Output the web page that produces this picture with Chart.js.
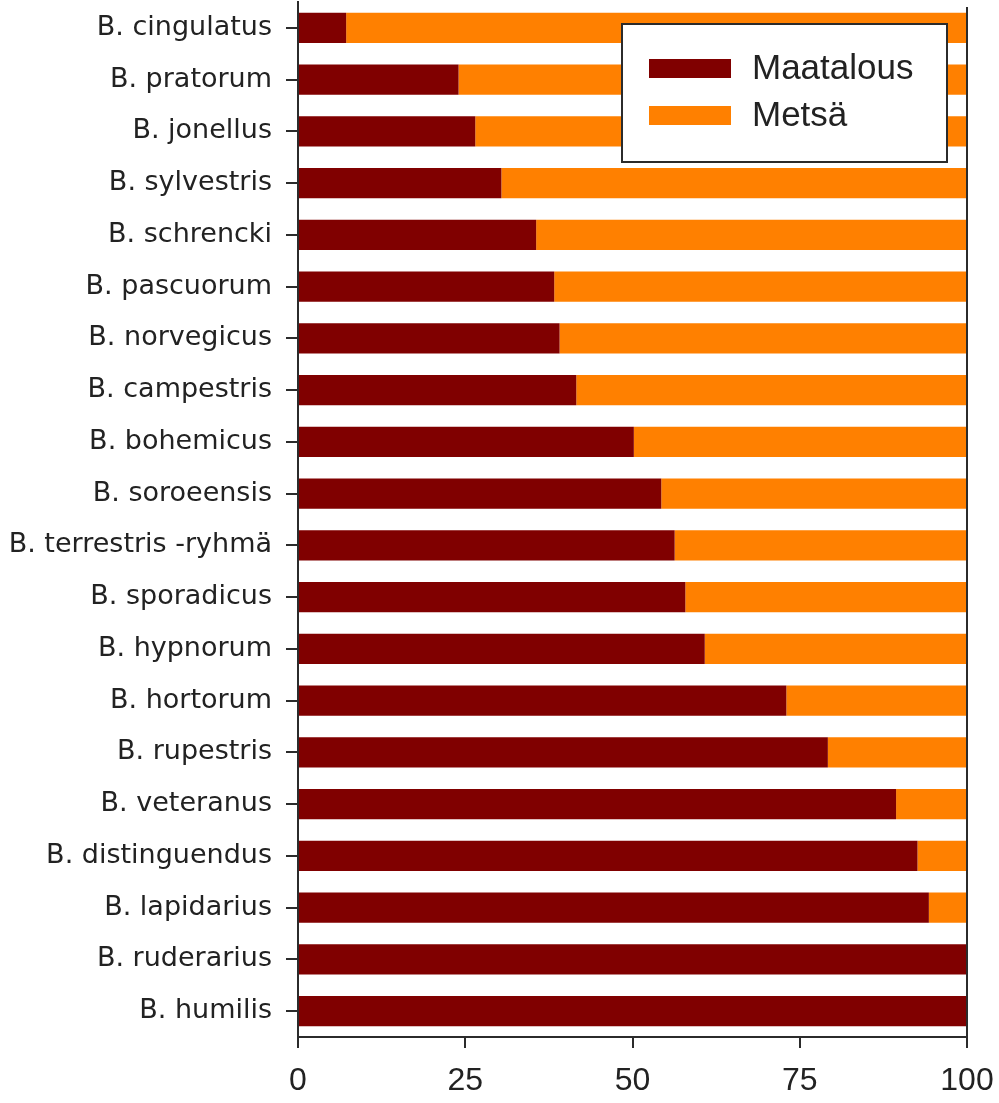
<!DOCTYPE html>
<html>
<head>
<meta charset="utf-8">
<script src="https://cdn.jsdelivr.net/npm/chart.js@4.4.1/dist/chart.umd.min.js"></script>
<style>
  html, body { margin: 0; padding: 0; background: #fff; }
  #chart { display: block; }
</style>
</head>
<body>
<canvas id="chart" width="999" height="1103"></canvas>
<script>
// ---- Data ----
const species = [
  'B. cingulatus', 'B. pratorum', 'B. jonellus', 'B. sylvestris', 'B. schrencki',
  'B. pascuorum', 'B. norvegicus', 'B. campestris', 'B. bohemicus', 'B. soroeensis',
  'B. terrestris -ryhmä', 'B. sporadicus', 'B. hypnorum', 'B. hortorum', 'B. rupestris',
  'B. veteranus', 'B. distinguendus', 'B. lapidarius', 'B. ruderarius', 'B. humilis'
];
const maatalous = [7.2, 24.0, 26.5, 30.4, 35.6, 38.3, 39.1, 41.6, 50.2, 54.3,
                   56.3, 57.9, 60.8, 73.0, 79.2, 89.4, 92.6, 94.3, 100, 100];
const metsa     = [92.8, 76.0, 73.5, 69.6, 64.4, 61.7, 60.9, 58.4, 49.8, 45.7,
                   43.7, 42.1, 39.2, 27.0, 20.8, 10.6, 7.4, 5.7, 0, 0];
const xTicks = [0, 25, 50, 75, 100];

const axisColor = '#2b2b2b';
const textColor = '#222';

// ---- Legend box drawn inside the plot (top right) ----
const boxLegend = {
  id: 'boxLegend',
  afterDatasetsDraw(chart) {
    const { ctx, chartArea } = chart;
    const x = chartArea.right - 345, y = chartArea.top + 22, w = 325, h = 138;
    ctx.save();
    ctx.fillStyle = '#fff';
    ctx.fillRect(x, y, w, h);
    ctx.strokeStyle = axisColor;
    ctx.lineWidth = 2;
    ctx.strokeRect(x, y, w, h);
    ctx.font = '35px "Liberation Sans", Arial, sans-serif';
    ctx.textBaseline = 'middle';
    chart.data.datasets.forEach((ds, i) => {
      const cy = y + 44 + i * 47;
      ctx.fillStyle = ds.backgroundColor;
      ctx.fillRect(x + 27, cy - 9, 82, 19);
      ctx.fillStyle = textColor;
      ctx.fillText(ds.label, x + 130, cy + 1);
    });
    ctx.restore();
  }
};

// ---- Right frame line ----
const rightFrame = {
  id: 'rightFrame',
  afterDraw(chart) {
    const { ctx, chartArea } = chart;
    ctx.save();
    ctx.strokeStyle = axisColor;
    ctx.lineWidth = 2;
    ctx.beginPath();
    ctx.moveTo(chartArea.right, chartArea.top + 5);
    ctx.lineTo(chartArea.right, chartArea.bottom);
    ctx.stroke();
    ctx.restore();
  }
};

new Chart(document.getElementById('chart'), {
  type: 'bar',
  data: {
    labels: species,
    datasets: [
      { label: 'Maatalous', data: maatalous, backgroundColor: '#800000' },
      { label: 'Metsä',     data: metsa,     backgroundColor: '#ff8000' }
    ]
  },
  options: {
    indexAxis: 'y',
    responsive: false,
    animation: false,
    layout: { padding: { top: 2, right: 32, left: 0, bottom: 0 } },
    datasets: { bar: { barPercentage: 0.58, categoryPercentage: 1.0, borderWidth: 0 } },
    plugins: { legend: { display: false }, tooltip: { enabled: false } },
    scales: {
      x: {
        stacked: true, min: 0, max: 100,
        afterBuildTicks: s => { s.ticks = xTicks.map(v => ({ value: v })); },
        ticks: { color: textColor, font: { family: '"Liberation Sans", Arial, sans-serif', size: 32 }, padding: 14, maxRotation: 0 },
        grid: { drawOnChartArea: false, drawTicks: true, tickLength: 11, color: axisColor, lineWidth: 2 },
        border: { display: true, color: axisColor, width: 2 },
        afterFit: s => { s.height = 66; s.paddingLeft = 0; s.paddingRight = 0; }
      },
      y: {
        stacked: true,
        ticks: { color: textColor, font: { family: '"DejaVu Sans", sans-serif', size: 27 }, padding: 14, autoSkip: false },
        grid: { drawOnChartArea: false, drawTicks: true, tickLength: 12, offset: false, color: axisColor, lineWidth: 2 },
        border: { display: true, color: axisColor, width: 2 },
        afterFit: s => { s.width = 298; s.paddingTop = 0; s.paddingBottom = 0; }
      }
    }
  },
  plugins: [boxLegend, rightFrame]
});
</script>
</body>
</html>
